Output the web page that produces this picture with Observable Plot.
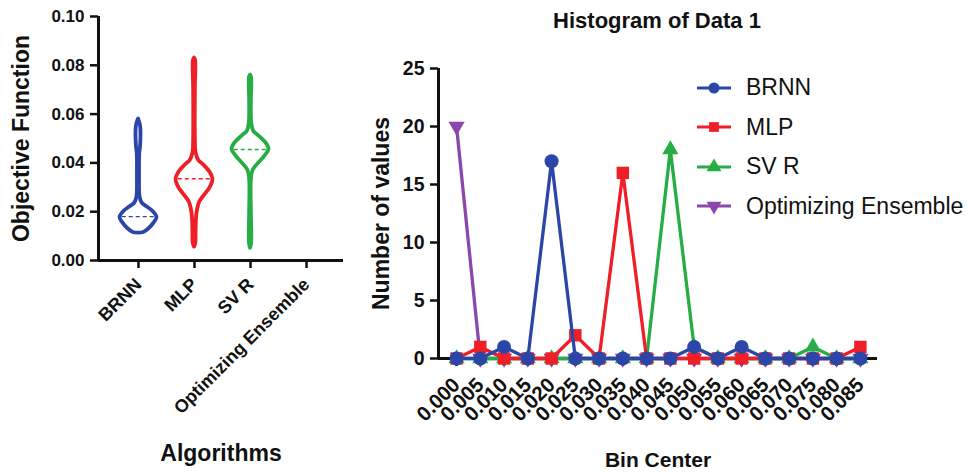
<!DOCTYPE html>
<html><head><meta charset="utf-8">
<script src="https://cdn.jsdelivr.net/npm/d3@7"></script>
<script src="https://cdn.jsdelivr.net/npm/@observablehq/plot@0.6"></script>
<style>
body{margin:0;background:#fff;font-family:"Liberation Sans",Arial,sans-serif;}
#wrap{position:relative;width:973px;height:472px;overflow:hidden;background:#fff;}
#left{position:absolute;left:0;top:0;}
#right{position:absolute;left:350px;top:0;}
#title{position:absolute;left:457px;width:400px;top:8px;text-align:center;font-weight:bold;font-size:22px;color:#111;}
#legend{position:absolute;left:696px;top:68px;}
.row{display:flex;align-items:center;height:39.5px;font-size:23px;color:#111;}
.row svg{margin-right:14px;}
</style></head><body>
<div id="wrap">
  <div id="left"></div>
  <div id="right"></div>
  <div id="title">Histogram of Data 1</div>
  <div id="legend"></div>
</div>
<script>
// ---------- data ----------
const algorithms = ["BRNN", "MLP", "SV R", "Optimizing Ensemble"];
const colors = ["#2c46a8", "#ee1f26", "#27ad45", "#8b47ab"];

// violin outlines: [objective value, relative density]
const violinBRNN = [[0.0112,0],[0.0115,5],[0.013,10],[0.0155,15],[0.0176,17.5],[0.020,14],[0.022,8],[0.0235,3.5],[0.026,1.5],[0.035,1],[0.044,1.2],[0.047,2],[0.055,2],[0.058,0]];
const violinMLP  = [[0.0055,0],[0.007,1.2],[0.012,1.5],[0.018,2],[0.021,3],[0.024,5],[0.027,10],[0.030,15],[0.0333,17.5],[0.036,15],[0.039,9],[0.041,4],[0.044,1.5],[0.050,0.8],[0.070,0.8],[0.082,1],[0.083,0]];
const violinSVR  = [[0.005,0],[0.007,1],[0.020,0.8],[0.033,0.8],[0.037,2.5],[0.040,8],[0.043,14],[0.0455,17.5],[0.048,15],[0.051,8],[0.053,3],[0.056,1.2],[0.065,0.8],[0.075,1],[0.076,0]];
const medians = [0.018, 0.0335, 0.0455];

const binCenters = [0.000,0.005,0.010,0.015,0.020,0.025,0.030,0.035,0.040,0.045,0.050,0.055,0.060,0.065,0.070,0.075,0.080,0.085];
const countsBRNN = [0,0,1,0,17,0,0,0,0,0,1,0,1,0,0,0,0,0];
const countsMLP  = [0,1,0,0,0,2,0,16,0,0,0,0,0,0,0,0,0,1];
const countsSVR  = [0,0,0,0,0,0,0,0,0,18,1,0,0,0,0,1,0,0];
const countsOE   = [20,0,0,0,0,0,0,0,0,0,0,0,0,0,0,0,0,0];

// ---------- left: violin plot ----------
const violins = [violinBRNN, violinMLP, violinSVR];
const wScale = 0.33 / 17.5;
const leftXDomain = [-0.714, 3.66];
const leftMarks = [];
violins.forEach((v, i) => {
  leftMarks.push(Plot.areaX(v, {
    y: d => d[0], x1: d => i - d[1] * wScale, x2: d => i + d[1] * wScale,
    fill: "white", stroke: colors[i], strokeWidth: 3.8, strokeLinejoin: "round", curve: "catmull-rom"
  }));
  const medW = d3.max(v, d => d[1]) * wScale * 0.88;
  leftMarks.push(Plot.ruleY([medians[i]], {
    x1: i - medW, x2: i + medW, stroke: colors[i], strokeWidth: 1.3, strokeDasharray: "4,3"
  }));
});
const left = Plot.plot({
  width: 350, height: 472,
  marginLeft: 98, marginRight: 7, marginTop: 16, marginBottom: 212,
  style: {fontFamily: "Liberation Sans, Arial, sans-serif", fontWeight: "bold", color: "#111", background: "white"},
  x: {domain: leftXDomain},
  y: {domain: [0, 0.1]},
  marks: [
    ...leftMarks,
    Plot.axisY({ticks: [0, 0.02, 0.04, 0.06, 0.08, 0.10], tickFormat: d3.format(".2f"), tickSize: 8, tickPadding: 6, strokeWidth: 2.5,
      label: "Objective Function", labelAnchor: "center", labelArrow: false, labelOffset: 86}),
    Plot.axisX({ticks: [0, 1, 2, 3], tickFormat: i => algorithms[i], tickSize: 8, tickPadding: 13, strokeWidth: 2.5, tickRotate: -45,
      label: "Algorithms", labelAnchor: "center", labelArrow: false, labelOffset: 200}),
    Plot.ruleX([leftXDomain[0]], {strokeWidth: 3, stroke: "#111"}),
    Plot.ruleY([0], {strokeWidth: 3, stroke: "#111"})
  ]
});
function setSize(svg, sel, size) {
  svg.querySelectorAll(sel).forEach(g => {
    g.setAttribute("font-size", size);
    g.querySelectorAll("text").forEach(t => t.setAttribute("font-size", size));
  });
}
setSize(left, "[aria-label='y-axis tick label']", 17);
setSize(left, "[aria-label='x-axis tick label']", 18);
setSize(left, "[aria-label='x-axis label'], [aria-label='y-axis label']", 23);
document.getElementById("left").appendChild(left);

// ---------- right: histogram frequency polygons ----------
const triangleDown = {
  draw(context, size) {
    const s3 = Math.sqrt(3);
    const y = -Math.sqrt(size / (s3 * 3));
    context.moveTo(0, -y * 2);
    context.lineTo(-s3 * y, y);
    context.lineTo(s3 * y, y);
    context.closePath();
  }
};
const series = [
  {name: "Optimizing Ensemble", counts: countsOE, color: colors[3], symbol: triangleDown, r: 6},
  {name: "SV R", counts: countsSVR, color: colors[2], symbol: "triangle", r: 6},
  {name: "MLP", counts: countsMLP, color: colors[1], symbol: "square", r: 7},
  {name: "BRNN", counts: countsBRNN, color: colors[0], symbol: "circle", r: 7}
];
const rightXDomain = [-0.0038, 0.0886];
const rightMarks = [];
series.forEach(s => {
  const rows = binCenters.map((b, j) => ({bin: b, n: s.counts[j]}));
  rightMarks.push(Plot.line(rows, {x: "bin", y: "n", stroke: s.color, strokeWidth: 3.3}));
  rightMarks.push(Plot.dot(rows, {x: "bin", y: "n", fill: s.color, stroke: "none", symbol: () => s.symbol, r: s.r}));
});
const right = Plot.plot({
  width: 623, height: 472,
  marginLeft: 88, marginRight: 96, marginTop: 68, marginBottom: 114,
  style: {fontFamily: "Liberation Sans, Arial, sans-serif", fontWeight: "bold", color: "#111", background: "white", overflow: "visible"},
  x: {domain: rightXDomain},
  y: {domain: [0, 25]},
  symbol: {type: "identity"},
  marks: [
    Plot.axisY({ticks: [0, 5, 10, 15, 20, 25], tickSize: 8, tickPadding: 6, strokeWidth: 2.5,
      label: "Number of values", labelAnchor: "center", labelArrow: false, labelOffset: 66}),
    Plot.axisX({ticks: binCenters, tickFormat: d3.format(".3f"), tickSize: 8, tickPadding: 15, strokeWidth: 2.5, tickRotate: -45,
      label: "Bin Center", labelAnchor: "center", labelArrow: false, labelOffset: 108}),
    Plot.ruleX([rightXDomain[0]], {strokeWidth: 3, stroke: "#111"}),
    Plot.ruleY([0], {strokeWidth: 3, stroke: "#111"}),
    ...rightMarks
  ]
});
setSize(right, "[aria-label='y-axis tick label']", 19.5);
setSize(right, "[aria-label='x-axis tick label']", 20.5);
setSize(right, "[aria-label='x-axis label']", 21);
setSize(right, "[aria-label='y-axis label']", 23);
document.getElementById("right").appendChild(right);

// ---------- legend ----------
const legend = d3.select("#legend");
[...series].reverse().forEach(s => {
  const row = legend.append("div").attr("class", "row");
  const svg = row.append("svg").attr("width", 36).attr("height", 20);
  svg.append("line").attr("x1", 1).attr("x2", 35).attr("y1", 10).attr("y2", 10).attr("stroke", s.color).attr("stroke-width", 3);
  const sym = typeof s.symbol === "string" ? d3["symbol" + s.symbol[0].toUpperCase() + s.symbol.slice(1)] : s.symbol;
  svg.append("path").attr("transform", "translate(18,10)").attr("fill", s.color)
    .attr("d", d3.symbol(sym, Math.PI * 5.5 * 5.5)());
  row.append("span").text(s.name);
});
</script>
</body></html>
